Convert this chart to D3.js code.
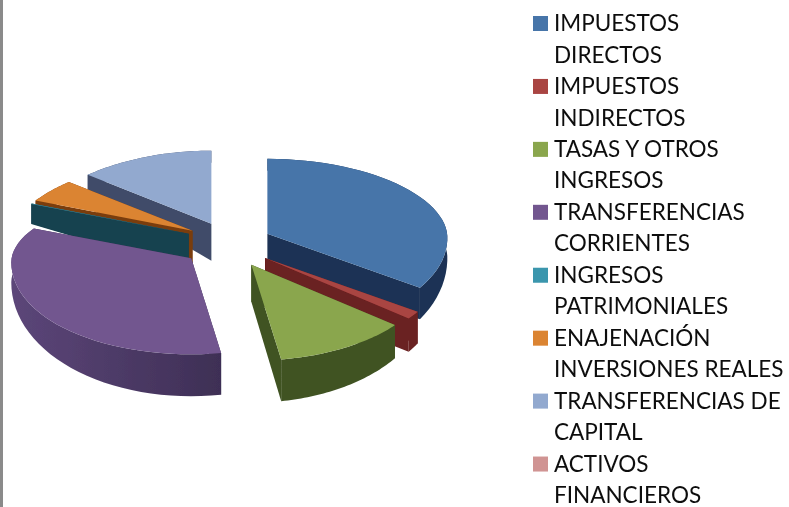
<!DOCTYPE html>
<html><head><meta charset="utf-8">
<script src="https://cdn.jsdelivr.net/npm/d3@7"></script>
<style>html,body{margin:0;padding:0;background:#fff;overflow:hidden}svg{display:block}</style>
</head><body><div id="c"></div>
<script>
const categories = ["IMPUESTOS DIRECTOS","IMPUESTOS INDIRECTOS","TASAS Y OTROS INGRESOS","TRANSFERENCIAS CORRIENTES","INGRESOS PATRIMONIALES","ENAJENACIÓN INVERSIONES REALES","TRANSFERENCIAS DE CAPITAL","ACTIVOS FINANCIEROS"];
const legendLines = [["IMPUESTOS","DIRECTOS"],["IMPUESTOS","INDIRECTOS"],["TASAS Y OTROS","INGRESOS"],["TRANSFERENCIAS","CORRIENTES"],["INGRESOS","PATRIMONIALES"],["ENAJENACIÓN","INVERSIONES REALES"],["TRANSFERENCIAS DE","CAPITAL"],["ACTIVOS","FINANCIEROS"]];
const values = [33.9, 1.4, 12.05, 35.7, 0.1, 4.8, 12.05, 0];
const topColors = ["#4674a9","#a94442","#8aa64e","#72578f","#3b96ad","#db8432","#92a9cf","#d09493"];
const wallColors = ["#1b3354","#6a2020","#3f5222","#5c4679","#17424f","#7a3d0e","#3f4b69","#7a4a4a"];
const wallDark = ["#1b3354","#6a2020","#3f5222","#3e2f55","#17424f","#7a3d0e","#3f4b69","#7a4a4a"];

const W=789,H=507;
const svg=d3.select("#c").append("svg").attr("width",W).attr("height",H);
const defs=svg.append("defs");
const blur=(id,s)=>defs.append("filter").attr("id",id).attr("x","-5%").attr("y","-5%").attr("width","110%").attr("height","110%")
  .append("feGaussianBlur").attr("stdDeviation",s);
blur("soft",0.55); blur("softText",0.25);
svg.append("rect").attr("x",0).attr("y",0).attr("width",3).attr("height",H).attr("fill","#8a8a8a");

const pie=d3.pie().sort(null).value(d=>d)(values);
const cx=228,cy=245,rx=180,ryFront=96,ryRight=75,bulge=4,exX=45,exY=23,apexDepth=37;
const ryBackLeft=d3.scaleLinear().domain([0,0.5,0.75,1]).range([68,68,70,73]);
const rimDepth=d3.scaleLinear().domain([1,0.75,0.55,0,-1]).range([12,14,20,20,42]);
const line=d3.line();

function project(apex,r,t){
  const s=Math.sin(t),c=Math.cos(t);
  const ry=c<=0?ryFront:(s>=0?ryRight:ryBackLeft(c));
  return [apex[0]+r*rx*s, apex[1]-r*c*ry+r*bulge*s*s];
}
function depth(r,t){return apexDepth+(rimDepth(Math.cos(t))-apexDepth)*r;}
function down(p,d){return [p[0],p[1]+d];}

const g=svg.append("g").attr("filter","url(#soft)");
const order=[6,5,4,0,1,3,2];
order.forEach(i=>{
  const a=pie[i];
  const mid=(a.startAngle+a.endAngle)/2;
  const apex=[cx+exX*Math.sin(mid),cy-exY*Math.cos(mid)];
  const ts=d3.range(0,41).map(k=>a.startAngle+(a.endAngle-a.startAngle)*k/40);
  const rim=ts.map(t=>project(apex,1,t));
  const rimLow=ts.map(t=>down(project(apex,1,t),depth(1,t)));
  const gid="wg"+i;
  const gr=defs.append("linearGradient").attr("id",gid).attr("gradientUnits","userSpaceOnUse")
    .attr("x1",d3.min(rim,p=>p[0])).attr("x2",d3.max(rim,p=>p[0])).attr("y1",0).attr("y2",0);
  gr.append("stop").attr("offset",0).attr("stop-color",wallColors[i]);
  gr.append("stop").attr("offset",1).attr("stop-color",wallDark[i]);
  const wall=(t)=>{
    const p=project(apex,1,t);
    return [apex,p,down(p,depth(1,t)),down(apex,apexDepth)];
  };
  g.append("path").attr("d",line(wall(a.startAngle))+"Z").attr("fill",wallDark[i]);
  g.append("path").attr("d",line(wall(a.endAngle))+"Z").attr("fill",wallDark[i]);
  g.append("path").attr("d",line(rim.concat(rimLow.slice().reverse()))+"Z").attr("fill",`url(#${gid})`);
  g.append("path").attr("d",line([apex].concat(rim))+"Z").attr("fill",topColors[i]);
});

const legend=svg.append("g").attr("filter","url(#softText)");
const rowH=d3.scaleLinear().domain([0,15]).range([23,495]);
legendLines.forEach((ls,i)=>{
  const y0=rowH(i*2);
  legend.append("rect").attr("x",533).attr("y",y0-7).attr("width",15).attr("height",15).attr("fill",topColors[i]);
  ls.forEach((t,j)=>{
    legend.append("text").attr("x",554).attr("y",rowH(i*2+j)).attr("dy","0.36em")
      .attr("font-family","Lato, 'Open Sans', sans-serif").attr("font-size",22.5).attr("fill","#111").text(t);
  });
});
</script></body></html>
